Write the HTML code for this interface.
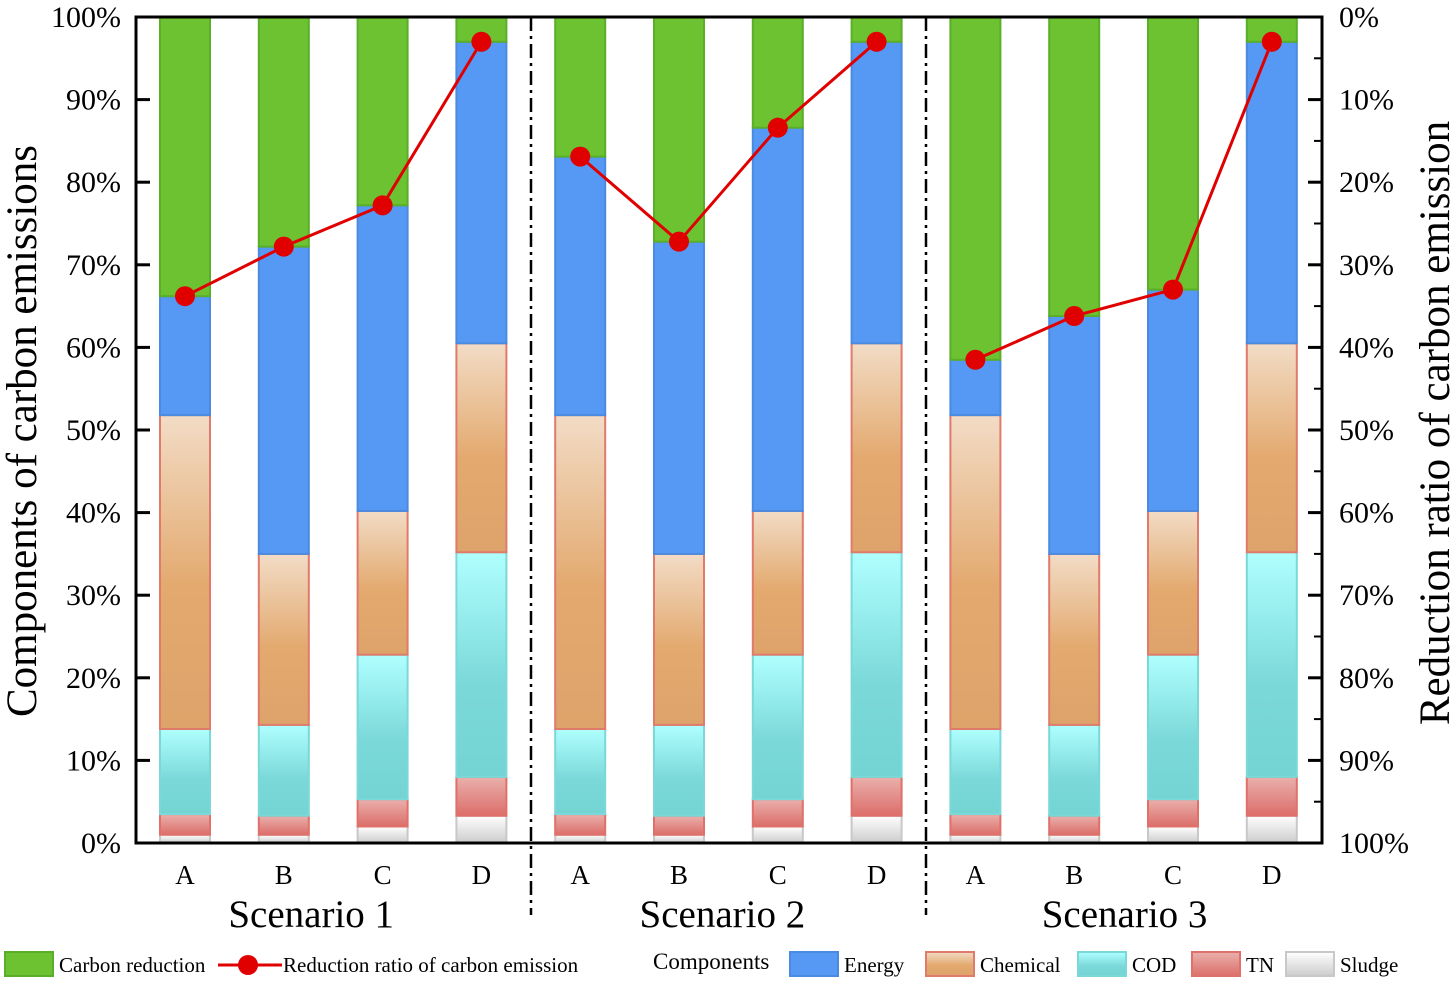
<!DOCTYPE html>
<html><head><meta charset="utf-8"><style>
body{margin:0;background:#fff;}
svg, svg text{font-family:"Liberation Serif","DejaVu Serif",serif;}
</style></head><body>
<svg id="chart" width="1456" height="983" xmlns="http://www.w3.org/2000/svg" font-family="Liberation Serif, serif">
<defs>
<linearGradient id="gChem" x1="0" y1="0" x2="0" y2="1"><stop offset="0" stop-color="#f2dcc6"/><stop offset="0.55" stop-color="#e3a96e"/><stop offset="1" stop-color="#dea36a"/></linearGradient>
<linearGradient id="gCod" x1="0" y1="0" x2="0" y2="1"><stop offset="0" stop-color="#b0ffff"/><stop offset="0.6" stop-color="#7ad8d8"/><stop offset="1" stop-color="#74d4d4"/></linearGradient>
<linearGradient id="gTn" x1="0" y1="0" x2="0" y2="1"><stop offset="0" stop-color="#eab0ac"/><stop offset="1" stop-color="#dc6e6a"/></linearGradient>
<linearGradient id="gSl" x1="0" y1="0" x2="0" y2="1"><stop offset="0" stop-color="#ffffff"/><stop offset="1" stop-color="#cccccc"/></linearGradient>
</defs>
<g id="bars"></g>
<g id="axes"></g>
<g id="line"></g>
<g id="legend"></g>
</svg>
<script>
const categories=["A","B","C","D","A","B","C","D","A","B","C","D"];
const scenarios=["Scenario 1","Scenario 2","Scenario 3"];
const sludge=[1,1,2,3.3,1,1,2,3.3,1,1,2,3.3];
const tn=[2.5,2.3,3.3,4.7,2.5,2.3,3.3,4.7,2.5,2.3,3.3,4.7];
const cod=[10.3,11,17.5,27.2,10.3,11,17.5,27.2,10.3,11,17.5,27.2];
const chemical=[38,20.7,17.4,25.3,38,20.7,17.4,25.3,38,20.7,17.4,25.3];
const energy=[14.4,37.2,37,36.5,31.3,37.8,46.4,36.5,6.7,28.8,26.8,36.5];
const reduction=[33.8,27.8,22.8,3,16.9,27.2,13.4,3,41.5,36.2,33,3];
const yTicks=[0,10,20,30,40,50,60,70,80,90,100];

const NS="http://www.w3.org/2000/svg";
const X0=136,X1=1322,Y0=843,Y1=17;
const y=v=>Y0-(Y0-Y1)*v/100;
const yR=v=>Y1+(Y0-Y1)*v/100;
const xc=i=>185+i*98.8;
const BW=50;
const FF='Liberation Serif, serif';
const labelShift=[-22,-6,1];
function mk(tag,attrs,parent,text){const e=document.createElementNS(NS,tag);for(const k in attrs)e.setAttribute(k,attrs[k]);if(tag==='text')e.setAttribute('font-family',FF);if(text!==undefined)e.textContent=text;parent.appendChild(e);return e;}
const bars=document.getElementById('bars'),axes=document.getElementById('axes'),line=document.getElementById('line'),legend=document.getElementById('legend');
const series=[[sludge,'url(#gSl)','#c8c8c8','sludge'],[tn,'url(#gTn)','#e0706a','tn'],[cod,'url(#gCod)','#7ad8d8','cod'],[chemical,'url(#gChem)','#e07a6a','chemical'],[energy,'#5599f5','#4a8ae0','energy']];
categories.forEach((c,i)=>{
  let base=0;
  series.forEach(s=>{
    const v=s[0][i];
    const r=mk('rect',{x:xc(i)-BW/2,y:y(base+v),width:BW,height:y(base)-y(base+v),fill:s[1],stroke:s[2],'stroke-width':2},bars);
    
    
    base+=v;
  });
  const g=mk('rect',{x:xc(i)-BW/2,y:y(100),width:BW,height:y(base)-y(100),fill:'#6cc230',stroke:'#5aae28','stroke-width':2},bars);
  
  
  const t=mk('text',{x:xc(i),y:884,'font-size':27,'text-anchor':'middle'},axes,c);
  
  
});
scenarios.forEach((s,k)=>{
  const t=mk('text',{x:(xc(k*4+1)+xc(k*4+2))/2+labelShift[k],y:927,'font-size':39,'text-anchor':'middle'},axes,s);
  
  
});
[531,926].forEach(x=>{const l=mk('line',{x1:x,y1:Y1,x2:x,y2:915,stroke:'#000','stroke-width':2.5,'stroke-dasharray':'14 5 3 5'},axes);
  });
const frame=mk('rect',{x:X0,y:Y1,width:X1-X0,height:Y0-Y1,fill:'none',stroke:'#000','stroke-width':3},axes);

yTicks.forEach(v=>{
  mk('line',{x1:X0,y1:y(v),x2:X0+14,y2:y(v),stroke:'#000','stroke-width':3},axes);
  mk('line',{x1:X1,y1:y(v),x2:X1-14,y2:y(v),stroke:'#000','stroke-width':3},axes);
  if(v<100){mk('line',{x1:X1,y1:y(v+5),x2:X1-8,y2:y(v+5),stroke:'#000','stroke-width':2},axes);}
  const t=mk('text',{x:121,y:y(v)+10,'font-size':30,'text-anchor':'end'},axes,v+'%');
  
  const t2=mk('text',{x:1339,y:yR(v)+10,'font-size':30},axes,v+'%');
  
});
const yt=mk('text',{transform:'translate(36,431) rotate(-90)','font-size':43,'text-anchor':'middle'},axes,'Components of carbon emissions');

const yt2=mk('text',{transform:'translate(1449,423) rotate(-90)','font-size':43,'text-anchor':'middle'},axes,'Reduction ratio of carbon emission');

for(let k=0;k<3;k++){
  const pts=[];for(let j=0;j<4;j++){const i=k*4+j;pts.push(xc(i)+','+yR(reduction[i]));}
  const pl=mk('polyline',{points:pts.join(' '),fill:'none',stroke:'#e00000','stroke-width':3},line);
  
}
reduction.forEach((v,i)=>{const c=mk('circle',{cx:xc(i),cy:yR(v),r:10,fill:'#e00000'},line);
  });
function lg(x,fill,stroke,label){const r=mk('rect',{x:x,y:952,width:48,height:24,fill:fill,stroke:stroke,'stroke-width':2},legend);
  
  const t=mk('text',{x:x+54,y:972,'font-size':21},legend,label);}
lg(5,'#6cc230','#5aae28','Carbon reduction');
mk('line',{x1:218,y1:965,x2:282,y2:965,stroke:'#e00000','stroke-width':3},legend);
mk('circle',{cx:248,cy:965,r:10,fill:'#e00000'},legend);
const lt=mk('text',{x:283,y:972,'font-size':21},legend,'Reduction ratio of carbon emission');

const ct=mk('text',{x:653,y:969,'font-size':23},legend,'Components');

lg(790,'#5599f5','#4a8ae0','Energy');
lg(926,'url(#gChem)','#e07a6a','Chemical');
lg(1078,'url(#gCod)','#7ad8d8','COD');
lg(1192,'url(#gTn)','#e0706a','TN');
lg(1286,'url(#gSl)','#c8c8c8','Sludge');
</script>
</body></html>
